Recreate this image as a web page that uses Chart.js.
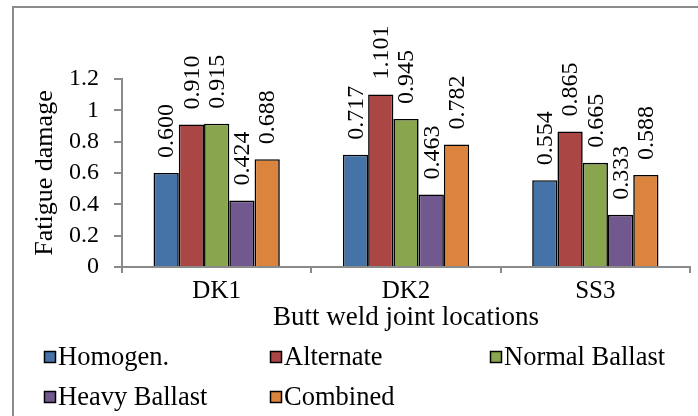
<!DOCTYPE html>
<html>
<head>
<meta charset="utf-8">
<script src="https://cdn.jsdelivr.net/npm/chart.js@4.4.1/dist/chart.umd.min.js"></script>
<style>
  html, body { margin: 0; padding: 0; background: #fff; }
  #wrap { position: relative; width: 698px; height: 416px; overflow: hidden; }
  #frame { position: absolute; left: 12px; top: 6px; width: 720px; height: 440px;
           border-left: 2px solid #8c8c8c; border-top: 2px solid #8c8c8c; }
  #c { position: absolute; left: 0; top: 0; }
</style>
</head>
<body>
<div id="wrap">
  <div id="frame"></div>
  <canvas id="c" width="698" height="416"></canvas>
</div>
<script>
// Fatigue damage at butt weld joints, per loading condition
const categories = ['DK1', 'DK2', 'SS3'];
const seriesNames = ['Homogen.', 'Alternate', 'Normal Ballast', 'Heavy Ballast', 'Combined'];
const homogen       = [0.600, 0.717, 0.554];
const alternate     = [0.910, 1.101, 0.865];
const normalBallast = [0.915, 0.945, 0.665];
const heavyBallast  = [0.424, 0.463, 0.333];
const combined      = [0.688, 0.782, 0.588];
const yTickLabels = ['0', '0.2', '0.4', '0.6', '0.8', '1', '1.2'];
const yStep = 0.2;
const yTitle = 'Fatigue damage';
const xTitle = 'Butt weld joint locations';

const seriesValues = [homogen, alternate, normalBallast, heavyBallast, combined];
const seriesColors = ['#4572A7', '#AA4643', '#89A54E', '#71588F', '#DB843D'];

const SERIF = '"Liberation Serif", "Times New Roman", serif';
const AXIS_GRAY = '#8a8a8a';

// Vertical value labels above each bar
const valueLabels = {
  id: 'valueLabels',
  afterDatasetsDraw(chart) {
    const ctx = chart.ctx;
    ctx.save();
    ctx.font = '24px ' + SERIF;
    ctx.fillStyle = '#000';
    ctx.textAlign = 'left';
    ctx.textBaseline = 'middle';
    chart.data.datasets.forEach((ds, i) => {
      chart.getDatasetMeta(i).data.forEach((bar, j) => {
        ctx.save();
        ctx.translate(bar.x + 1, bar.y - 15);
        ctx.rotate(-Math.PI / 2);
        ctx.fillText(ds.data[j].toFixed(3), 0, 0);
        ctx.restore();
      });
    });
    ctx.restore();
  }
};

// Axis titles and a two-row legend laid out in columns
const titlesAndLegend = {
  id: 'titlesAndLegend',
  afterDraw(chart) {
    const ctx = chart.ctx;
    const area = chart.chartArea;
    ctx.save();
    ctx.fillStyle = '#000';
    ctx.textAlign = 'center';
    ctx.textBaseline = 'middle';
    // y title
    ctx.font = '26px ' + SERIF;
    ctx.save();
    ctx.translate(45, (area.top + area.bottom) / 2);
    ctx.rotate(-Math.PI / 2);
    ctx.fillText(yTitle, 0, 0);
    ctx.restore();
    // x title
    ctx.font = '27px ' + SERIF;
    ctx.fillText(xTitle, (area.left + area.right) / 2, 318);

    // legend
    ctx.font = '26.5px ' + SERIF;
    const colX = [44, 270, 490];
    const rowY = [357, 397];
    ctx.textAlign = 'left';
    chart.data.datasets.forEach((ds, i) => {
      const x = colX[i % 3];
      const y = rowY[Math.floor(i / 3)];
      ctx.fillStyle = ds.backgroundColor;
      ctx.fillRect(x, y - 6, 12, 12);
      ctx.strokeStyle = '#000';
      ctx.lineWidth = 1.5;
      ctx.strokeRect(x + 0.5, y - 5.5, 11, 11);
      ctx.fillStyle = '#000';
      ctx.fillText(ds.label, x + 14, y + 1);
    });
    ctx.restore();
  }
};

new Chart(document.getElementById('c'), {
  type: 'bar',
  data: {
    labels: categories,
    datasets: seriesNames.map((name, i) => ({
      label: name,
      data: seriesValues[i],
      backgroundColor: seriesColors[i],
      borderColor: '#000',
      borderWidth: 1.6,
      categoryPercentage: 0.667,
      barPercentage: 1.0
    }))
  },
  options: {
    responsive: false,
    animation: false,
    devicePixelRatio: 1,
    layout: { padding: { left: 0, right: 8, top: 79, bottom: 0 } },
    plugins: { legend: { display: false }, tooltip: { enabled: false } },
    scales: {
      x: {
        afterFit(scale) { scale.height = 149; },
        grid: { offset: true, drawOnChartArea: false, drawTicks: true, tickLength: 6,
                color: AXIS_GRAY, lineWidth: 2 },
        border: { display: true, color: AXIS_GRAY, width: 2 },
        ticks: { color: '#000', font: { family: SERIF, size: 25 }, padding: 3,
                 maxRotation: 0, autoSkip: false }
      },
      y: {
        min: 0, max: 1.2,
        afterFit(scale) { scale.width = 122; },
        grid: { drawOnChartArea: false, drawTicks: true, tickLength: 8,
                color: AXIS_GRAY, lineWidth: 2 },
        border: { display: true, color: AXIS_GRAY, width: 2 },
        ticks: { stepSize: yStep, autoSkip: false, color: '#000',
                 font: { family: SERIF, size: 24 }, padding: 15,
                 callback: (v) => yTickLabels[Math.round(v / yStep)] }
      }
    }
  },
  plugins: [valueLabels, titlesAndLegend]
});
</script>
</body>
</html>
